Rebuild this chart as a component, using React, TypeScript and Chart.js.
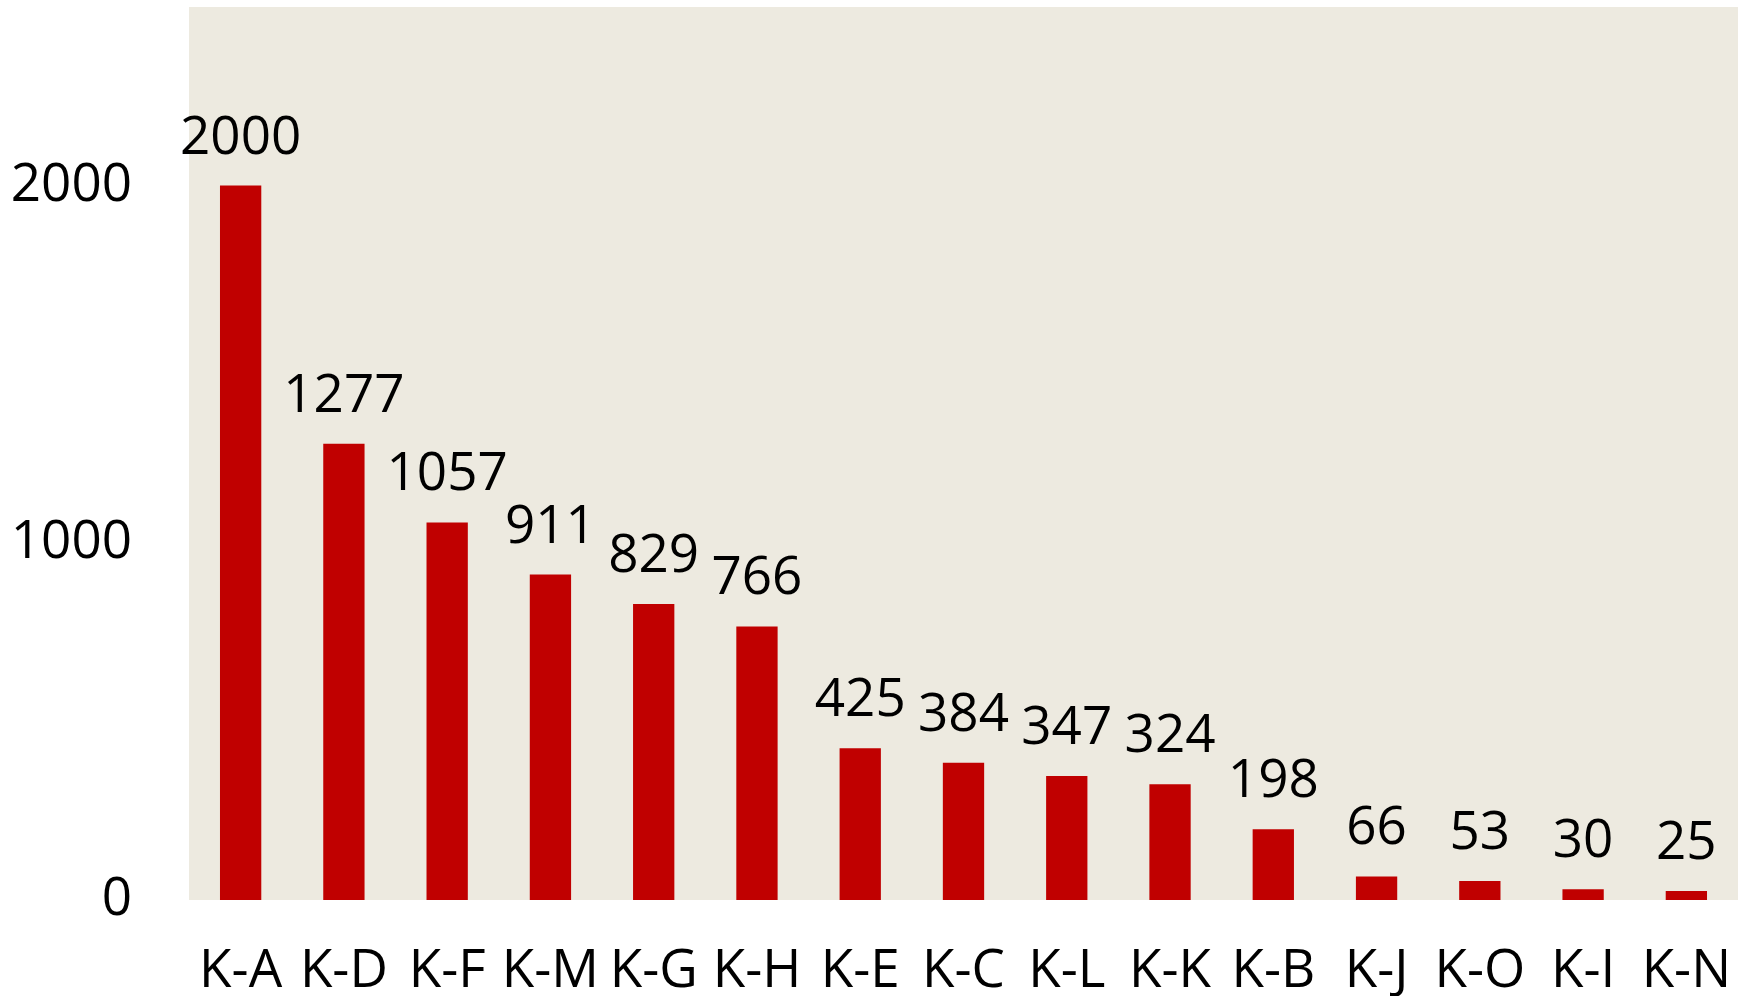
import React, { useEffect, useRef } from "react";
import { Chart, registerables } from "chart.js";

Chart.register(...registerables);

const categories = ["K-A", "K-D", "K-F", "K-M", "K-G", "K-H", "K-E", "K-C", "K-L", "K-K", "K-B", "K-J", "K-O", "K-I", "K-N"];
const values = [2000, 1277, 1057, 911, 829, 766, 425, 384, 347, 324, 198, 66, 53, 30, 25];
const yTicks = [0, 1000, 2000];

const FONT = "'Open Sans', sans-serif";

export default function App() {
  const ref = useRef<HTMLCanvasElement | null>(null);
  useEffect(() => {
    const canvas = ref.current!;
    const bgPlugin = {
      id: "plotBg",
      beforeDraw(chart: any) {
        const { ctx, chartArea } = chart;
        ctx.save();
        ctx.fillStyle = "rgb(237,234,224)";
        ctx.fillRect(chartArea.left, chartArea.top, chartArea.right - chartArea.left, chartArea.bottom - chartArea.top);
        ctx.restore();
      },
    };
    const labelPlugin = {
      id: "valueLabels",
      afterDatasetsDraw(chart: any) {
        const { ctx } = chart;
        const meta = chart.getDatasetMeta(0);
        ctx.save();
        ctx.font = `53px ${FONT}`;
        ctx.fillStyle = "#000";
        ctx.textAlign = "center";
        ctx.textBaseline = "alphabetic";
        meta.data.forEach((bar: any, i: number) => {
          ctx.fillText(String(values[i]), bar.x, bar.y - 32);
        });
        ctx.restore();
      },
    };
    const chart = new Chart(canvas, {
      type: "bar",
      data: {
        labels: categories,
        datasets: [
          {
            data: values,
            backgroundColor: "#C00000",
            borderWidth: 0,
            barPercentage: 0.4,
            categoryPercentage: 1,
          },
        ],
      },
      options: {
        animation: false,
        responsive: false,
        maintainAspectRatio: false,
        layout: { padding: { top: 7, right: 8, left: 0, bottom: 0 } },
        plugins: { legend: { display: false }, tooltip: { enabled: false } },
        scales: {
          x: {
            grid: { display: false, drawTicks: false },
            border: { display: false },
            ticks: { color: "#000", font: { family: FONT, size: 53 }, padding: 40, maxRotation: 0, autoSkip: false },
            afterFit(scale: any) {
              scale.height = 96;
              scale.paddingLeft = 0;
              scale.paddingRight = 0;
            },
          },
          y: {
            min: 0,
            max: 2500,
            grid: { display: false, drawTicks: false },
            border: { display: false },
            ticks: {
              color: "#000",
              font: { family: FONT, size: 53 },
              padding: 57,
              callback: (v: any) => String(v),
            },
            afterBuildTicks(scale: any) {
              scale.ticks = yTicks.map((v) => ({ value: v }));
            },
            afterFit(scale: any) {
              scale.width = 189;
              scale.paddingTop = 0;
              scale.paddingBottom = 0;
            },
          },
        },
      },
      plugins: [bgPlugin, labelPlugin],
    });
    return () => chart.destroy();
  }, []);
  return (
    <div style={{ position: "fixed", left: 0, top: 0, width: 1746, height: 996, background: "#fff" }}>
      <canvas ref={ref} width={1746} height={996} style={{ width: 1746, height: 996, display: "block" }} />
    </div>
  );
}
